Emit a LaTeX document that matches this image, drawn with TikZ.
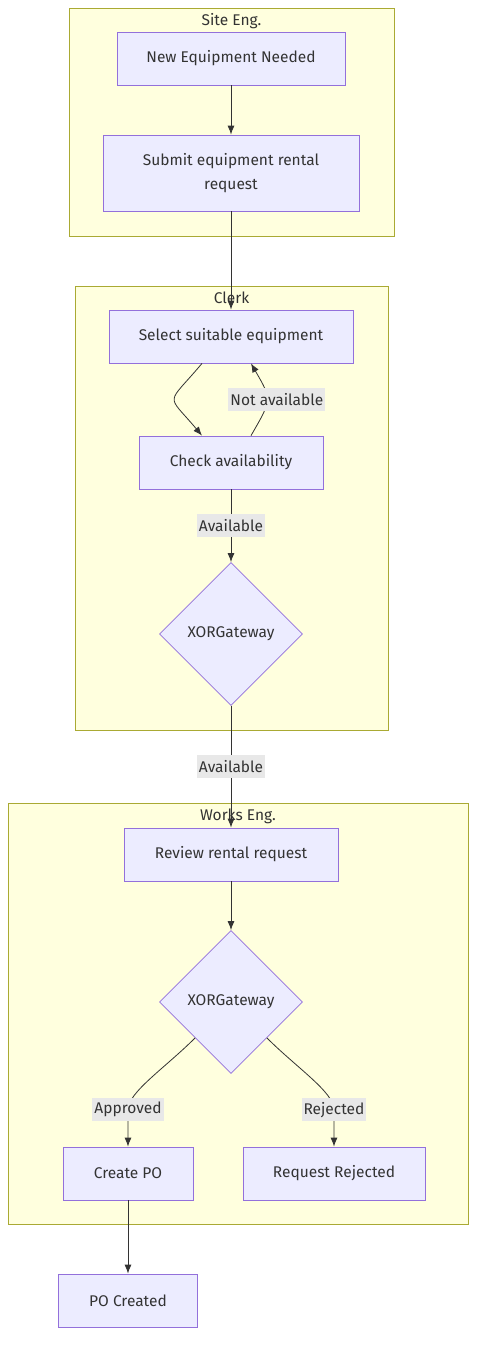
\documentclass[tikz,border=0pt]{standalone}
\usepackage{fontspec}
\setmainfont{Fira Sans}
\usetikzlibrary{arrows.meta,shapes.geometric}
\definecolor{taskfill}{HTML}{ECECFF}
\definecolor{taskline}{HTML}{9370DB}
\definecolor{lanefill}{HTML}{FFFFDE}
\definecolor{laneline}{HTML}{AAAA33}
\definecolor{inkgray}{HTML}{333333}
\definecolor{labelfill}{HTML}{E8E8E8}
\newcommand{\flowfont}{\fontsize{15.5}{24}\selectfont}
\tikzset{%
  >={Latex[width=7pt,length=9pt]},
  % Specifications for style of nodes:
          base/.style = {draw=taskline, fill=taskfill, line width=0.8pt,
                         text=inkgray, font=\flowfont},
          task/.style = {base, rectangle, minimum height=53pt, align=center},
       gateway/.style = {base, diamond, minimum width=143pt,
                         minimum height=143pt, inner sep=0pt},
          lane/.style = {rectangle, draw=laneline, fill=lanefill,
                         line width=0.8pt},
     lanetitle/.style = {anchor=north, inner sep=3pt, yshift=-3pt,
                         text=inkgray, font=\flowfont},
       edgelbl/.style = {fill=labelfill, text=inkgray, font=\flowfont,
                         inner sep=2pt, minimum height=23pt},
          flow/.style = {->, draw=inkgray, line width=0.8pt},
}

\begin{document}
\begin{tikzpicture}[x=1pt, y=1pt, node distance=126pt]
  \useasboundingbox (-231,58.5) rectangle (253,-1296.5);
  % Swimlanes (drawn first, so they stay behind)
  \node (site)  [lane, minimum width=325pt, minimum height=228pt] at (0.5,-63.5) {};
  \node (clerk) [lane, minimum width=313pt, minimum height=444pt] at (0.5,-449.5) {};
  \node (works) [lane, minimum width=460pt, minimum height=421pt] at (7,-955) {};
  \node (sitetitle)  [lanetitle] at (site.north)  {Site Eng.};
  \node (clerktitle) [lanetitle] at (clerk.north) {Clerk};
  \node (workstitle) [lanetitle] at (works.north) {Works Eng.};
  % Specification of nodes (position, etc.)
  \node (need)                                               [task, minimum width=228pt] {New Equipment Needed};
  \node (submit) [below of=need, yshift=11.5pt, task, minimum width=256pt, minimum height=76pt] {Submit equipment rental\\request};
  \node (select) [below of=submit, yshift=-37.5pt, task, minimum width=244pt] {Select suitable equipment};
  \node (check)  [below of=select, task, minimum width=184pt]   {Check availability};
  \node (xor1)   [below of=check, yshift=-45.5pt, gateway]     {XORGateway};
  \node (review) [below of=xor1, yshift=-94.5pt, task, minimum width=214pt] {Review rental request};
  \node (xor2)   [below of=review, yshift=-21.5pt, gateway]    {XORGateway};
  \node (create) [below of=xor2, xshift=-103pt, yshift=-45.5pt, task, minimum width=130pt] {Create PO};
  \node (reject) [below of=xor2, xshift=103pt, yshift=-45.5pt, task, minimum width=182pt] {Request Rejected};
  \node (done)   [below of=create, yshift=-1pt, task, minimum width=139pt] {PO Created};
  % Specification of lines between nodes specified above
  \draw[flow] (need) -- (submit);
  \draw[flow] (submit) -- (select);
  \draw[flow] ([xshift=-29pt]select.south) to[out=-130, in=130, looseness=2] ([xshift=-29pt]check.north);
  \draw[flow] ([xshift=20pt]check.north) to[out=60, in=-60, looseness=1.5]
              node[edgelbl, xshift=10pt] {Not available} ([xshift=20pt]select.south);
  \draw[flow] (check) -- node[edgelbl] {Available} (xor1);
  \draw[flow] (xor1) -- node[edgelbl] {Available} (review);
  \draw[flow] (review) -- (xor2);
  \draw[flow] (xor2.south west) to[out=-135, in=90, out looseness=1.1, in looseness=0.45] ([yshift=37pt]create.north)
              -- node[edgelbl, pos=0] {Approved} (create);
  \draw[flow] (xor2.south east) to[out=-45, in=90, out looseness=1.1, in looseness=0.45] ([yshift=37pt]reject.north)
              -- node[edgelbl, pos=0] {Rejected} (reject);
  \draw[flow] (create) -- (done);
\end{tikzpicture}
\end{document}
